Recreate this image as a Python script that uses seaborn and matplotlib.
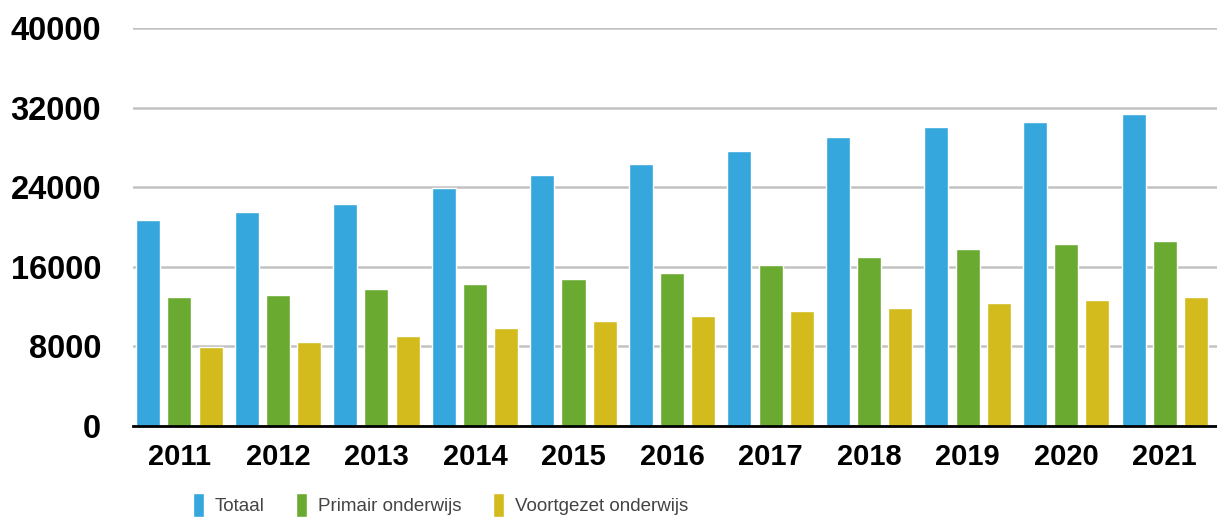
import matplotlib
matplotlib.use("Agg")
import matplotlib.pyplot as plt
import pandas as pd
import seaborn as sns

years = ["2011", "2012", "2013", "2014", "2015", "2016", "2017", "2018", "2019", "2020", "2021"]
totaal = [20700, 21500, 22300, 23900, 25200, 26300, 27600, 29000, 30000, 30600, 31400]
primair = [13000, 13200, 13800, 14300, 14800, 15400, 16200, 17000, 17800, 18300, 18600]
voortgezet = [7900, 8400, 9000, 9800, 10600, 11100, 11600, 11900, 12400, 12700, 13000]
series = ["Totaal", "Primair onderwijs", "Voortgezet onderwijs"]
colors = ["#35a7dd", "#6aaa30", "#d3bb1d"]

df = pd.DataFrame({
    "Jaar": years * 3,
    "Aantal": totaal + primair + voortgezet,
    "Reeks": [s for s in series for _ in years],
})

sns.set_style("white")
plt.rcParams["font.family"] = ["Liberation Sans", "DejaVu Sans"]

fig = plt.figure(figsize=(12.17, 5.2), dpi=100)
ax = fig.add_axes([0.1093, 0.1808, 0.8907, 0.7654])

sns.barplot(data=df, x="Jaar", y="Aantal", hue="Reeks", palette=colors,
            width=0.95, gap=0.23, ax=ax, legend=True, saturation=1)

ax.set_xlim(-0.47, 10.53)
ax.set_ylim(0, 40000)
ax.set_yticks(range(0, 40001, 8000))
ax.yaxis.grid(True, color="#c2c2c2", linewidth=1.8)
ax.set_axisbelow(True)
for s in ["top", "right", "left"]:
    ax.spines[s].set_visible(False)
ax.spines["bottom"].set_color("black")
ax.spines["bottom"].set_linewidth(2)
ax.set_xlabel("")
ax.set_ylabel("")
ax.tick_params(axis="y", length=0, pad=23, labelsize=23.5, labelcolor="black")
ax.tick_params(axis="x", length=0, pad=12, labelsize=21, labelcolor="black")
for t in ax.get_xticklabels() + ax.get_yticklabels():
    t.set_fontweight("bold")

handles, labels = ax.get_legend_handles_labels()
ax.get_legend().remove()
fig.legend(handles, labels, loc="center", bbox_to_anchor=(0.362, 0.029),
           ncol=3, frameon=False, handlelength=0.6, handleheight=1.6,
           handletextpad=0.6, columnspacing=1.65, labelcolor="#444444",
           prop={"size": 13.5})

fig.savefig("out.png", dpi=100)
